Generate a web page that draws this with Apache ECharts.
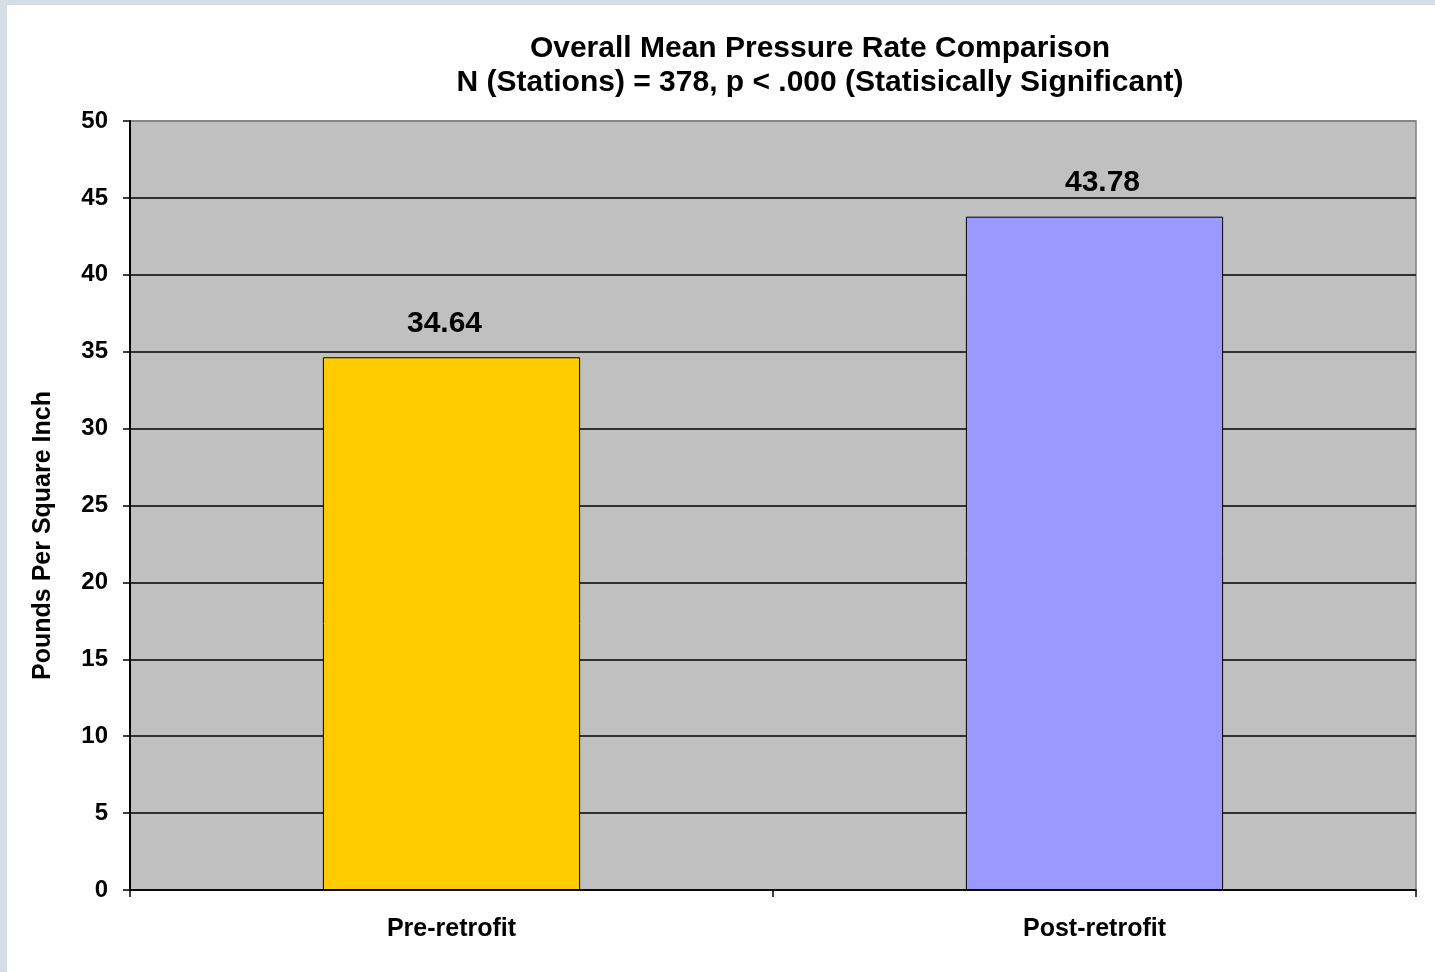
<!DOCTYPE html>
<html>
<head>
<meta charset="utf-8">
<script src="https://cdn.jsdelivr.net/npm/echarts@6/dist/echarts.min.js"></script>
<style>
  html, body { margin: 0; padding: 0; width: 1435px; height: 972px; overflow: hidden; background: #d5dee4; }
  #chart { position: absolute; left: 7px; top: 5px; width: 1428px; height: 967px; background: #ffffff; }
</style>
</head>
<body>
<div id="chart"></div>
<script>
// Mean pressure per group, in pounds per square inch
const categories = ['Pre-retrofit', 'Post-retrofit'];
const meanPressure = [34.64, 43.78];
const barColors = ['#ffcc00', '#9999ff'];
const titleLines = [
  'Overall Mean Pressure Rate Comparison',
  'N (Stations) = 378, p < .000 (Statisically Significant)'
];
const yAxisName = 'Pounds Per Square Inch';

const FONT = '"Liberation Sans", Arial, sans-serif';

// value labels sit slightly off the bar centres
const labelShift = [-7, 8];

// split lines: black for 0..45, the top one blends with the plot border
const splitColors = [];
for (let v = 0; v <= 50; v += 5) splitColors.push(v === 50 ? '#808080' : '#000000');

const chart = echarts.init(document.getElementById('chart'), null, { renderer: 'canvas' });
chart.setOption({
  animation: false,
  backgroundColor: '#ffffff',
  title: {
    text: titleLines.join('\n'),
    left: 813,
    top: 27,
    padding: 0,
    textAlign: 'center',
    textStyle: { fontFamily: FONT, fontSize: 30, fontWeight: 'bold', color: '#000', lineHeight: 34 }
  },
  grid: {
    left: 123, right: 19, top: 116, bottom: 82,
    show: true, backgroundColor: '#c0c0c0', borderColor: '#808080', borderWidth: 1.5
  },
  xAxis: {
    type: 'category',
    data: categories,
    axisLine: { show: true, lineStyle: { color: '#000', width: 1.5 } },
    axisTick: { show: true, length: 7, lineStyle: { color: '#000', width: 1.5 } },
    axisLabel: { margin: 27, fontFamily: FONT, fontSize: 25, fontWeight: 'bold', color: '#000' },
    splitLine: { show: false }
  },
  yAxis: {
    type: 'value',
    min: 0, max: 50, interval: 5,
    name: yAxisName,
    nameLocation: 'middle',
    nameGap: 74,
    nameTextStyle: {
      fontFamily: FONT, fontSize: 25, fontWeight: 'bold', color: '#000',
      padding: [0, 60, 0, 0]
    },
    axisLine: { show: true, lineStyle: { color: '#000', width: 2 } },
    axisTick: { show: true, length: 7, lineStyle: { color: '#000', width: 1.5 } },
    axisLabel: { margin: 22, fontFamily: FONT, fontSize: 24, fontWeight: 'bold', color: '#000' },
    splitLine: { show: true, lineStyle: { color: splitColors, width: 1.5 } }
  },
  series: [{
    type: 'bar',
    barWidth: '40%',
    data: meanPressure.map((v, i) => ({
      value: v,
      itemStyle: { color: barColors[i], borderColor: '#000', borderWidth: 1 },
      label: { offset: [labelShift[i], 0] }
    })),
    label: {
      show: true,
      position: 'top',
      distance: 19,
      fontFamily: FONT,
      fontSize: 30,
      fontWeight: 'bold',
      color: '#000',
      formatter: p => p.value.toFixed(2)
    }
  }]
});
</script>
</body>
</html>
